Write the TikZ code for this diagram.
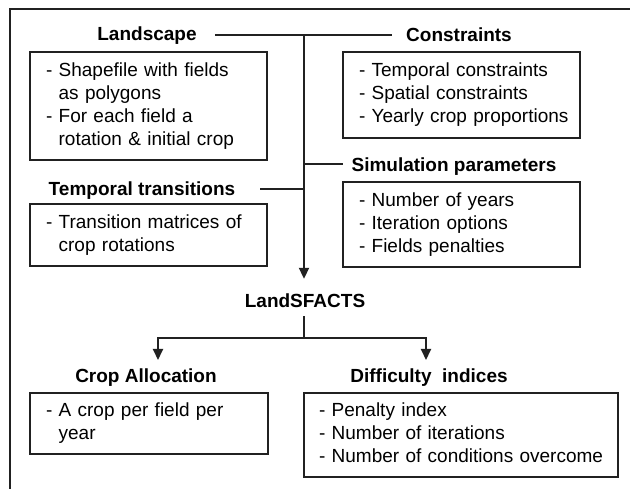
\documentclass[tikz,border=0pt]{standalone}
\usepackage{fontspec}
\setmainfont{Liberation Sans}
\usetikzlibrary{arrows.meta}
\definecolor{ink}{rgb}{0.13,0.13,0.13}
\tikzset{
  conn/.style={draw=ink,line width=2pt},
  headtitle/.style={font=\fontsize{19}{23}\selectfont\bfseries,inner sep=0pt,
    anchor=base,text height=14pt,text depth=4pt},
  listbox/.style={draw=ink,line width=2pt,font=\fontsize{19}{23}\selectfont,
    align=left,anchor=north west,inner xsep=16pt,inner ysep=0pt},
  tip/.style={-{Triangle[width=10pt,length=11pt]}}
}
\newcommand{\cont}{\hphantom{-\ }}
\newenvironment{lines}{\begin{tabular}{@{}l@{}}}{\end{tabular}}

\begin{document}
\begin{tikzpicture}[x=1pt,y=-1pt]
  \useasboundingbox (0,0) rectangle (630,489);

  % outer frame (cut by the page)
  \begin{scope}
    \clip (0,0) rectangle (630,489);
    \draw[conn] (10,9) rectangle (680,540);
  \end{scope}

  % inputs
  \node[headtitle] (landT) at (147,41) {Landscape};
  \node[listbox,text width=205pt,minimum height=108pt] (landB) at (29,51)
    {\begin{lines}- Shapefile with fields\\ \cont as polygons\\ - For each field a\\ \cont rotation \& initial crop\end{lines}};
  \node[headtitle] (consT) at (459,42) {Constraints};
  \node[listbox,text width=205pt,minimum height=86pt] (consB) at (342,51)
    {\begin{lines}- Temporal constraints\\ - Spatial constraints\\ - Yearly crop proportions\end{lines}};
  \node[headtitle] (simT) at (454,172) {Simulation parameters};
  \node[listbox,text width=205pt,minimum height=85pt] (simB) at (342,181)
    {\begin{lines}- Number of years\\ - Iteration options\\ - Fields penalties\end{lines}};
  \node[headtitle] (tempT) at (142,196) {Temporal transitions};
  \node[listbox,text width=205pt,minimum height=62pt] (tempB) at (29,203)
    {\begin{lines}- Transition matrices of\\ \cont crop rotations\end{lines}};

  % model
  \node[headtitle] (lsf) at (305,308) {LandSFACTS};

  % outputs
  \node[headtitle] (cropT) at (146,383) {Crop Allocation};
  \node[listbox,text width=206pt,minimum height=61pt] (cropB) at (29,392)
    {\begin{lines}- A crop per field per\\ \cont year\end{lines}};
  \node[headtitle] (diffT) at (429,383) {Difficulty\ \ indices};
  \node[listbox,text width=284pt,inner xsep=15pt,minimum height=84pt] (diffB) at (303,392)
    {\begin{lines}- Penalty index\\ - Number of iterations\\ - Number of conditions overcome\end{lines}};

  % connectors
  \coordinate (top) at (304,35);
  \coordinate (jSim) at (304,164);
  \coordinate (jTemp) at (304,189);
  \coordinate (split) at (304,338);
  \coordinate (aCrop) at (158,360);
  \coordinate (aDiff) at (426,360);
  \draw[conn] ([xshift=18pt]landT.east |- top) -- ([xshift=-14pt]consT.west |- top);
  \draw[conn] (jSim) -- ([xshift=-8pt]simT.west |- jSim);
  \draw[conn] ([xshift=25pt]tempT.east |- jTemp) -- (jTemp);
  \draw[conn,tip] (top) -- ([yshift=15pt]lsf.north -| top);
  \draw[conn] ([yshift=-4pt]lsf.south -| split) -- (split);
  \foreach \out in {aCrop,aDiff}{
    \draw[conn,tip] (split) -| (\out);}
\end{tikzpicture}
\end{document}
